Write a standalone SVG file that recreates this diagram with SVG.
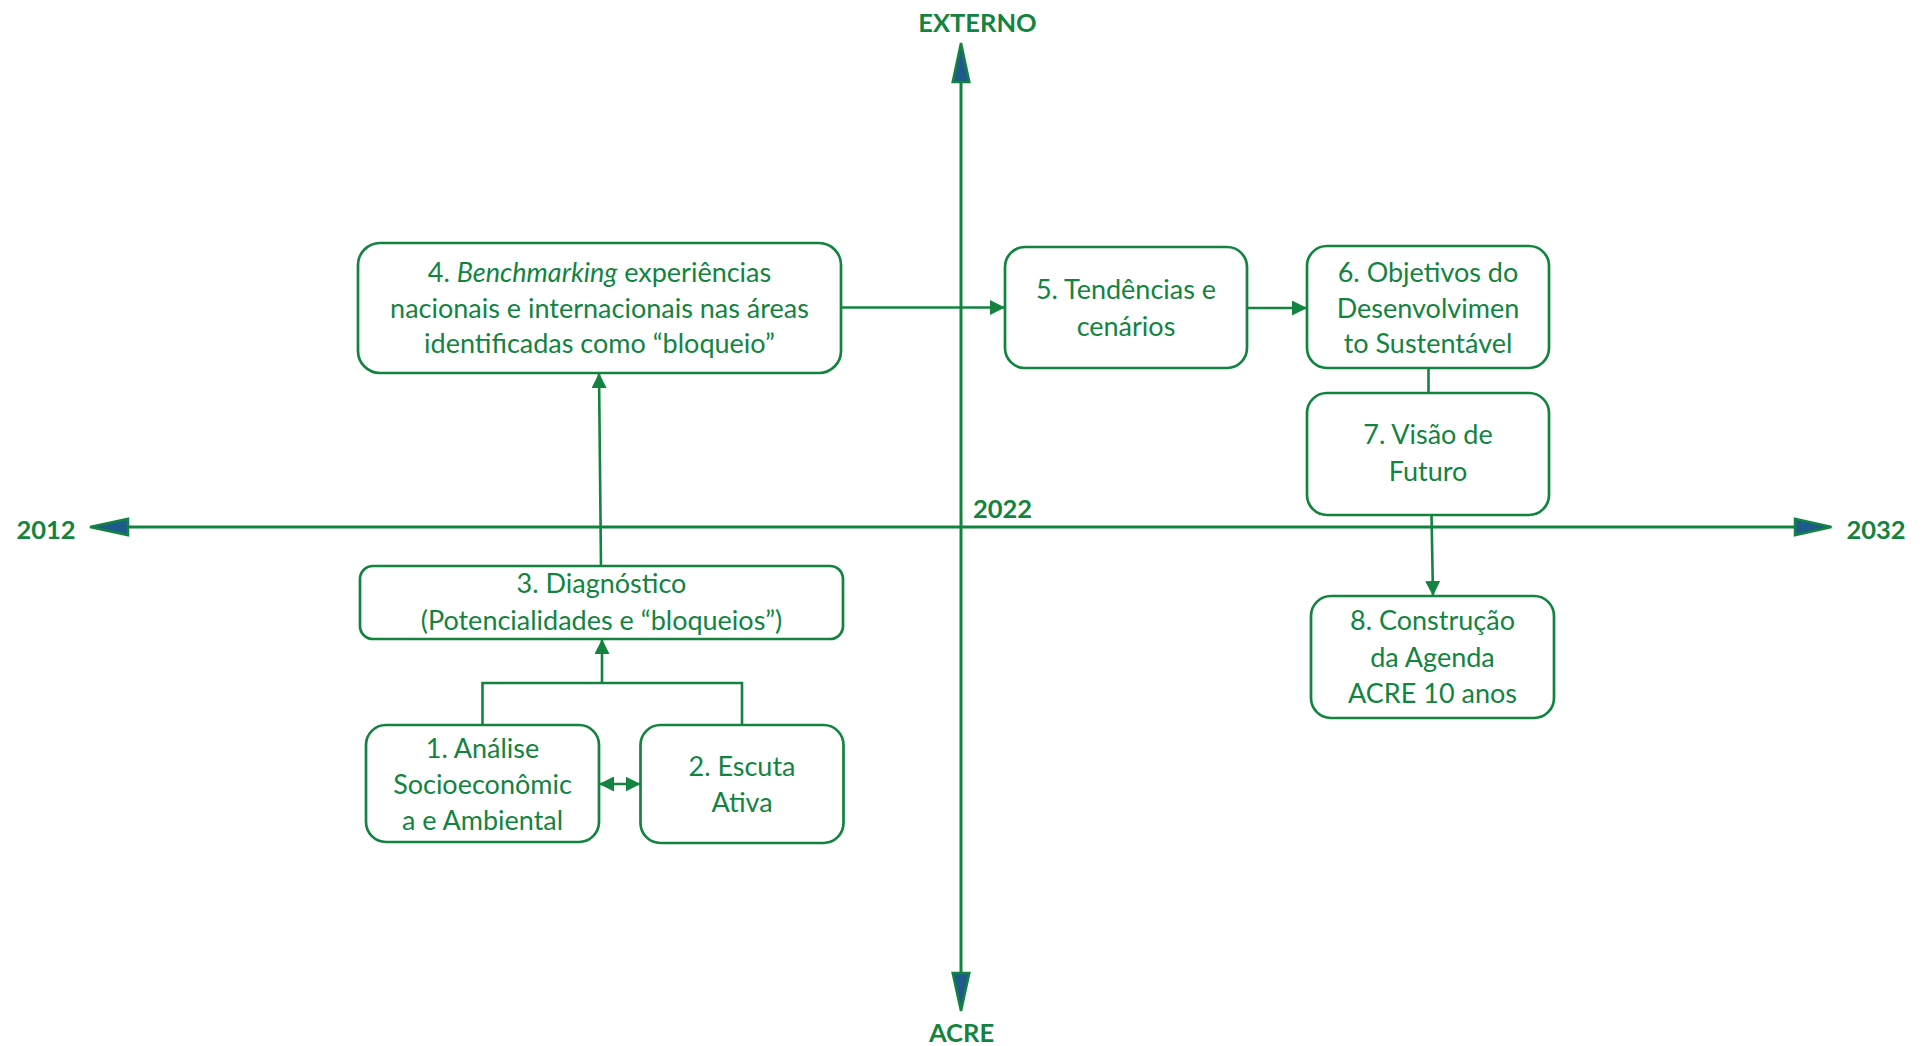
<svg xmlns="http://www.w3.org/2000/svg" width="1922" height="1046" viewBox="0 0 1922 1046">
<style>
  .box { fill: #ffffff; stroke: #12843F; stroke-width: 2.7; }
  .t { font-family: Lato, "Open Sans", "Liberation Sans", sans-serif; font-size: 27px; fill: #12843F; text-anchor: middle; }
  .lbl { font-family: Lato, "Open Sans", "Liberation Sans", sans-serif; font-size: 25.5px; font-weight: bold; fill: #12843F; text-anchor: middle; }
  .axis { stroke: #12843F; stroke-width: 3; fill: none; }
  .axhead { fill: #1E5A8C; stroke: #12843F; stroke-width: 2.5; stroke-linejoin: miter; }
  .con { stroke: #12843F; stroke-width: 2.6; fill: none; }
</style>
<defs>
  <marker id="arr" viewBox="0 0 15 15" refX="15" refY="7.5" markerWidth="15" markerHeight="15" markerUnits="userSpaceOnUse" orient="auto-start-reverse">
    <path d="M0,0 L15,7.5 L0,15 z" fill="#12843F"/>
  </marker>
</defs>
<rect width="1922" height="1046" fill="#ffffff"/>

<g id="axes">
  <line class="axis" x1="126" y1="527" x2="1797" y2="527"/>
  <line class="axis" x1="961" y1="80" x2="961" y2="975"/>
  <polygon class="axhead" points="90,527 128,518.7 128,535.3"/>
  <polygon class="axhead" points="1831.5,527 1795,518.7 1795,535.3"/>
  <polygon class="axhead" points="961,43 952.7,82 969.3,82"/>
  <polygon class="axhead" points="961,1011 952.7,973 969.3,973"/>
  <text class="lbl" x="977.5" y="31.5">EXTERNO</text>
  <text class="lbl" x="961.5" y="1042">ACRE</text>
  <text class="lbl" x="46" y="539">2012</text>
  <text class="lbl" x="1876" y="538.5">2032</text>
  <text class="lbl" x="1002.5" y="518">2022</text>
</g>

<g id="connectors">
  <line class="con" x1="841" y1="307.5" x2="1005" y2="307.5" marker-end="url(#arr)"/>
  <line class="con" x1="1247" y1="308" x2="1307" y2="308" marker-end="url(#arr)"/>
  <line class="con" x1="1428.5" y1="368" x2="1428.5" y2="393"/>
  <line class="con" x1="1431.5" y1="515" x2="1433" y2="596" marker-end="url(#arr)"/>
  <line class="con" x1="601" y1="566" x2="599" y2="373" marker-end="url(#arr)"/>
  <polyline class="con" points="482.5,725 482.5,683 742,683 742,725"/>
  <line class="con" x1="602" y1="683" x2="602" y2="639" marker-end="url(#arr)"/>
  <line class="con" x1="599" y1="784" x2="640.5" y2="784" marker-start="url(#arr)" marker-end="url(#arr)"/>
</g>

<g id="node4">
  <rect class="box" x="358" y="243" width="483" height="130" rx="22"/>
  <text class="t" x="599.5" y="282">4. <tspan font-style="italic">Benchmarking</tspan> experiências</text>
  <text class="t" x="599.5" y="318">nacionais e internacionais nas áreas</text>
  <text class="t" x="599.5" y="353">identificadas como “bloqueio”</text>
</g>
<g id="node3">
  <rect class="box" x="360" y="566" width="483" height="73" rx="13"/>
  <text class="t" x="601.5" y="593">3. Diagnóstico</text>
  <text class="t" x="601.5" y="630">(Potencialidades e “bloqueios”)</text>
</g>
<g id="node1">
  <rect class="box" x="366" y="725" width="233" height="117" rx="20"/>
  <text class="t" x="482.5" y="757.5">1. Análise</text>
  <text class="t" x="482.5" y="793.5">Socioeconômic</text>
  <text class="t" x="482.5" y="829.5">a e Ambiental</text>
</g>
<g id="node2">
  <rect class="box" x="640.5" y="725" width="203" height="118" rx="20"/>
  <text class="t" x="742" y="776">2. Escuta</text>
  <text class="t" x="742" y="812">Ativa</text>
</g>
<g id="node5">
  <rect class="box" x="1005" y="247" width="242" height="121" rx="20"/>
  <text class="t" x="1126" y="299">5. Tendências e</text>
  <text class="t" x="1126" y="336">cenários</text>
</g>
<g id="node6">
  <rect class="box" x="1307" y="246" width="242" height="122" rx="20"/>
  <text class="t" x="1428" y="282">6. Objetivos do</text>
  <text class="t" x="1428" y="318">Desenvolvimen</text>
  <text class="t" x="1428" y="353">to Sustentável</text>
</g>
<g id="node7">
  <rect class="box" x="1307" y="393" width="242" height="122" rx="20"/>
  <text class="t" x="1428" y="444">7. Visão de</text>
  <text class="t" x="1428" y="481">Futuro</text>
</g>
<g id="node8">
  <rect class="box" x="1311" y="596" width="243" height="122" rx="20"/>
  <text class="t" x="1432.5" y="630">8. Construção</text>
  <text class="t" x="1432.5" y="667">da Agenda</text>
  <text class="t" x="1432.5" y="703">ACRE 10 anos</text>
</g>
</svg>
